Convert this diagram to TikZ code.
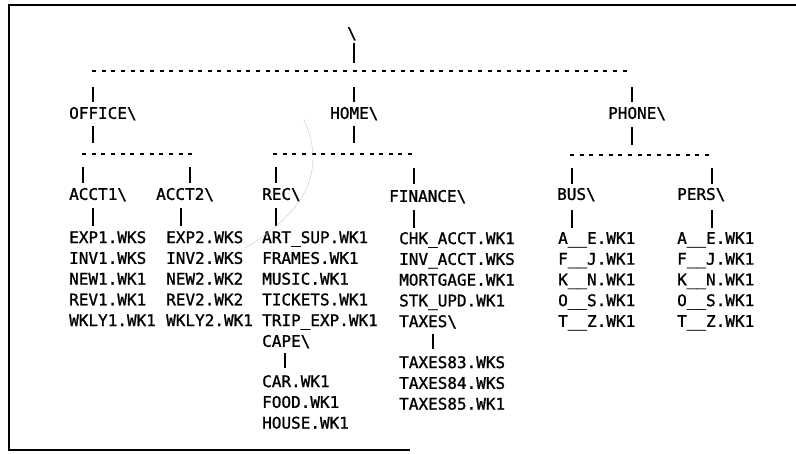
\documentclass[tikz,border=0pt]{standalone}
\usepackage{fontspec}
\newfontfamily\dotfont[FakeBold=1.2]{DejaVu Sans Mono}
\usetikzlibrary{positioning}

\begin{document}
\begin{tikzpicture}[
    x=1pt, y=-1pt,
    lbl/.style={anchor=west, inner sep=0pt, text height=11.7pt, text depth=0pt, font=\dotfont\fontsize{16}{16}\selectfont},
    files/.style={anchor=north west, inner sep=0pt, align=left, font=\dotfont\fontsize{16}{20.75}\selectfont},
    bar/.style={line width=1.4pt},
    bus/.style={line width=1.4pt, dash pattern=on 4pt off 5.65pt}
]
\useasboundingbox (0,0) rectangle (796,453);

% 外框
\draw[line width=2.8pt] (796,5) -- (9,5) -- (9,450) -- (410,450);

% 目录节点
\node[lbl, anchor=center] (root) at (352,33) {\textbackslash};
\node[lbl] (office) at (69,113) {OFFICE\textbackslash};
\node[lbl] (home) at (330,113) {HOME\textbackslash};
\node[lbl] (phone) at (608,113) {PHONE\textbackslash};
\node[lbl] (acctone) at (69,194) {ACCT1\textbackslash};
\node[lbl] (accttwo) at (156,194) {ACCT2\textbackslash};
\node[lbl] (rec) at (262,194) {REC\textbackslash};
\node[lbl] (finance) at (389,196) {FINANCE\textbackslash};
\node[lbl] (bus) at (557,194) {BUS\textbackslash};
\node[lbl] (pers) at (677,194) {PERS\textbackslash};

% 文件列表
\node[files] (acctonefiles) at (69,231) {EXP1.WKS\\INV1.WKS\\NEW1.WK1\\REV1.WK1\\WKLY1.WK1};
\node[files] (accttwofiles) at (166,231) {EXP2.WKS\\INV2.WKS\\NEW2.WK2\\REV2.WK2\\WKLY2.WK1};
\node[files] (recfiles) at (262,231) {ART\_SUP.WK1\\FRAMES.WK1\\MUSIC.WK1\\TICKETS.WK1\\TRIP\_EXP.WK1\\CAPE\textbackslash};
\node[files] (capefiles) at (262,375) {CAR.WK1\\FOOD.WK1\\HOUSE.WK1};
\node[files] (financefiles) at (399,232) {CHK\_ACCT.WK1\\INV\_ACCT.WKS\\MORTGAGE.WK1\\STK\_UPD.WK1\\TAXES\textbackslash};
\node[files] (taxesfiles) at (399,356) {TAXES83.WKS\\TAXES84.WKS\\TAXES85.WK1};
\node[files] (busfiles) at (558,232) {A\_\_E.WK1\\F\_\_J.WK1\\K\_\_N.WK1\\O\_\_S.WK1\\T\_\_Z.WK1};
\node[files] (persfiles) at (677,232) {A\_\_E.WK1\\F\_\_J.WK1\\K\_\_N.WK1\\O\_\_S.WK1\\T\_\_Z.WK1};

% 虚线分支
\foreach \n/\xa/\xb/\y in {top/92/632/71, officebus/82/192/154, homebus/273/415/154, phonebus/570/713/155} {
  \coordinate (\n-a) at (\xa,\y);
  \coordinate (\n-b) at (\xb,\y);
  \draw[bus] (\n-a) -- (\n-b);
}

% 竖线
\foreach \n/\x/\ya/\yb in {rootdown/354/43/63,
    officeup/93/87/102, officedown/93/126/143,
    homeup/354/87/102, homedown/354/126/143,
    phoneup/632/87/102, phonedown/632/127/145,
    acctoneup/83/167/183, acctonedown/93/208/226,
    accttwoup/190/167/183, accttwodown/181/208/226,
    recup/276/167/183, recdown/276/208/226,
    financeup/414/168/184, financedown/414/210/228,
    busup/572/168/184, busdown/572/210/228,
    persup/712/168/184, persdown/712/210/228,
    capedown/285/353/368, taxesdown/433/334/349} {
  \coordinate (\n-a) at (\x,\ya);
  \coordinate (\n-b) at (\x,\yb);
  \draw[bar] (\n-a) -- (\n-b);
}

% 铅笔痕
\draw[gray!45, line width=0.4pt] (304,120) .. controls (322,160) and (318,205) .. (245,248);

\end{tikzpicture}
\end{document}
